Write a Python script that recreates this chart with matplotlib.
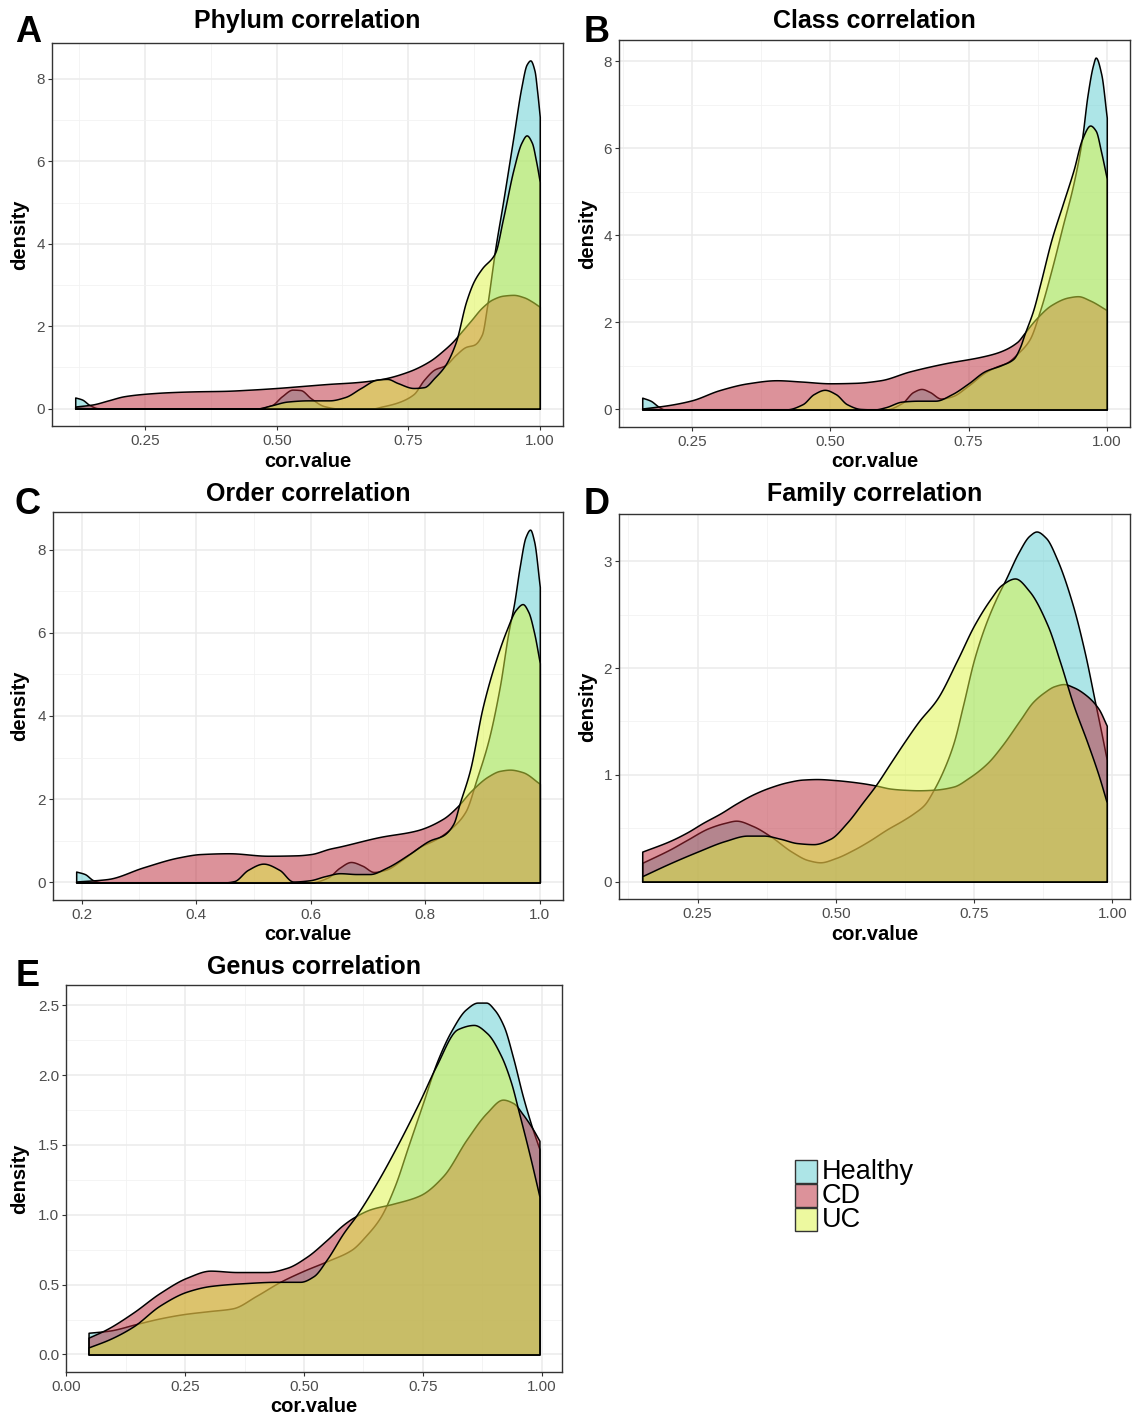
import matplotlib
matplotlib.use("Agg")
import matplotlib.pyplot as plt
from matplotlib.patches import Rectangle
import numpy as np

plt.rcParams['font.family'] = ['Liberation Sans', 'DejaVu Sans']

# ---------------- data ----------------
groups = ["Healthy", "CD", "UC"]
titles = ["Phylum correlation", "Class correlation", "Order correlation",
          "Family correlation", "Genus correlation"]
letters = ["A", "B", "C", "D", "E"]

# Panel A (Phylum)
A_x_healthy = [0.117, 0.13, 0.145, 0.16, 0.2, 0.46, 0.49, 0.51, 0.53, 0.545, 0.565, 0.59, 0.62, 0.68, 0.70, 0.73,
               0.76, 0.78, 0.80, 0.82, 0.84, 0.86, 0.875, 0.89, 0.90, 0.91, 0.915, 0.93, 0.95, 0.965, 0.975, 0.982,
               0.99, 0.995, 1.0]
A_y_healthy = [0.27, 0.22, 0.08, 0.01, 0.0, 0.0, 0.08, 0.3, 0.46, 0.45, 0.25, 0.06, 0.0, 0.0, 0.05, 0.15,
               0.35, 0.7, 0.95, 1.05, 1.3, 1.5, 1.55, 1.8, 2.5, 3.4, 3.85, 5.0, 6.6, 7.8, 8.35, 8.45,
               8.2, 7.7, 7.08]
A_x_cd = [0.117, 0.15, 0.18, 0.21, 0.25, 0.30, 0.35, 0.40, 0.45, 0.50, 0.55, 0.60, 0.65, 0.70, 0.75, 0.79, 0.82,
          0.835, 0.85, 0.87, 0.89, 0.91, 0.93, 0.95, 0.97, 0.985, 1.0]
A_y_cd = [0.05, 0.1, 0.2, 0.3, 0.36, 0.4, 0.42, 0.43, 0.46, 0.5, 0.55, 0.6, 0.64, 0.72, 0.9, 1.15, 1.45,
          1.63, 1.85, 2.15, 2.45, 2.65, 2.74, 2.76, 2.7, 2.6, 2.47]
A_x_uc = [0.117, 0.16, 0.46, 0.49, 0.52, 0.56, 0.60, 0.63, 0.66, 0.69, 0.71, 0.73, 0.76, 0.78, 0.80, 0.82, 0.84,
          0.86, 0.875, 0.89, 0.915, 0.93, 0.95, 0.965, 0.975, 0.985, 0.993, 1.0]
A_y_uc = [0.02, 0.0, 0.0, 0.08, 0.17, 0.2, 0.2, 0.28, 0.5, 0.7, 0.72, 0.62, 0.5, 0.52, 0.75, 1.05, 1.6,
          2.6, 3.1, 3.4, 3.78, 4.6, 5.8, 6.45, 6.63, 6.45, 6.0, 5.5]

# Panel B (Class)
B_x_healthy = [0.16, 0.175, 0.19, 0.2, 0.6, 0.63, 0.65, 0.665, 0.68, 0.70, 0.72, 0.75, 0.78, 0.80, 0.82, 0.84,
               0.86, 0.88, 0.90, 0.92, 0.94, 0.955, 0.965, 0.975, 0.98, 0.99, 1.0]
B_y_healthy = [0.27, 0.2, 0.06, 0.0, 0.0, 0.15, 0.4, 0.47, 0.4, 0.25, 0.3, 0.55, 0.85, 0.98, 1.08, 1.3,
               1.6, 2.3, 3.2, 4.2, 5.2, 6.2, 7.2, 7.9, 8.08, 7.7, 6.7]
B_x_cd = [0.16, 0.208, 0.25, 0.299, 0.351, 0.403, 0.448, 0.50, 0.545, 0.591, 0.643, 0.708, 0.773, 0.805, 0.838,
          0.851, 0.87, 0.90, 0.93, 0.948, 0.97, 1.0]
B_y_cd = [0.02, 0.1, 0.21, 0.44, 0.6, 0.67, 0.64, 0.6, 0.61, 0.67, 0.87, 1.06, 1.21, 1.32, 1.55,
          1.75, 2.05, 2.4, 2.57, 2.6, 2.5, 2.28]
B_x_uc = [0.16, 0.2, 0.42, 0.45, 0.47, 0.49, 0.51, 0.53, 0.555, 0.58, 0.60, 0.63, 0.66, 0.69, 0.72, 0.75, 0.78,
          0.81, 0.831, 0.843, 0.851, 0.867, 0.88, 0.90, 0.92, 0.94, 0.955, 0.97, 0.98, 0.99, 1.0]
B_y_uc = [0.02, 0.0, 0.0, 0.12, 0.35, 0.45, 0.35, 0.12, 0.01, 0.0, 0.05, 0.18, 0.2, 0.2, 0.35, 0.6, 0.88,
          1.02, 1.16, 1.43, 1.72, 2.28, 2.9, 3.9, 4.7, 5.5, 6.2, 6.52, 6.4, 5.9, 5.3]

# Panel C (Order)
C_x_healthy = [0.19, 0.205, 0.22, 0.235, 0.60, 0.63, 0.65, 0.67, 0.69, 0.71, 0.73, 0.76, 0.79, 0.82, 0.845,
               0.87, 0.89, 0.91, 0.93, 0.945, 0.955, 0.965, 0.975, 0.983, 0.99, 1.0]
C_y_healthy = [0.26, 0.2, 0.05, 0.0, 0.0, 0.12, 0.35, 0.49, 0.4, 0.25, 0.3, 0.55, 0.85, 1.05, 1.3,
               1.7, 2.5, 3.4, 4.7, 6.0, 6.7, 7.6, 8.3, 8.48, 8.2, 7.1]
C_x_cd = [0.19, 0.245, 0.307, 0.369, 0.407, 0.457, 0.525, 0.575, 0.60, 0.633, 0.65, 0.72, 0.785, 0.831, 0.855,
          0.88, 0.91, 0.93, 0.948, 0.97, 1.0]
C_y_cd = [0.02, 0.08, 0.36, 0.6, 0.68, 0.7, 0.64, 0.65, 0.68, 0.81, 0.86, 1.09, 1.25, 1.53, 1.81,
          2.2, 2.55, 2.68, 2.71, 2.65, 2.37]
C_x_uc = [0.19, 0.23, 0.45, 0.466, 0.49, 0.517, 0.545, 0.569, 0.598, 0.625, 0.651, 0.68, 0.703, 0.732, 0.773,
          0.808, 0.831, 0.849, 0.86, 0.878, 0.90, 0.92, 0.942, 0.958, 0.97, 0.98, 0.99, 1.0]
C_y_uc = [0.01, 0.0, 0.0, 0.03, 0.3, 0.45, 0.3, 0.02, 0.05, 0.15, 0.22, 0.2, 0.2, 0.35, 0.69,
          1.01, 1.13, 1.41, 1.9, 2.7, 4.2, 5.2, 6.07, 6.55, 6.69, 6.5, 6.0, 5.27]

# Panel D (Family)
D_x_healthy = [0.15, 0.2, 0.231, 0.27, 0.30, 0.32, 0.35, 0.383, 0.42, 0.45, 0.472, 0.50, 0.533, 0.56, 0.593,
               0.62, 0.641, 0.66, 0.677, 0.695, 0.713, 0.73, 0.75, 0.77, 0.79, 0.808, 0.83, 0.85, 0.863, 0.88,
               0.90, 0.928, 0.95, 0.97, 0.98, 0.99]
D_y_healthy = [0.175, 0.3, 0.39, 0.5, 0.55, 0.57, 0.52, 0.42, 0.28, 0.2, 0.18, 0.22, 0.3, 0.38, 0.49,
               0.57, 0.64, 0.72, 0.86, 1.05, 1.3, 1.65, 2.08, 2.4, 2.65, 2.84, 3.08, 3.24, 3.28, 3.22,
               3.02, 2.6, 2.15, 1.65, 1.4, 1.14]
D_x_cd = [0.15, 0.2, 0.231, 0.26, 0.292, 0.32, 0.352, 0.38, 0.412, 0.44, 0.466, 0.50, 0.52, 0.55, 0.572, 0.60,
          0.623, 0.65, 0.677, 0.713, 0.74, 0.774, 0.80, 0.834, 0.856, 0.876, 0.895, 0.912, 0.93, 0.954, 0.975,
          0.99]
D_y_cd = [0.28, 0.38, 0.46, 0.55, 0.64, 0.73, 0.82, 0.88, 0.93, 0.955, 0.96, 0.95, 0.94, 0.92, 0.9, 0.87,
          0.86, 0.855, 0.86, 0.89, 0.97, 1.11, 1.27, 1.52, 1.68, 1.77, 1.83, 1.85, 1.82, 1.74, 1.62,
          1.46]
D_x_uc = [0.15, 0.2, 0.25, 0.30, 0.34, 0.37, 0.40, 0.43, 0.46, 0.49, 0.52, 0.55, 0.572, 0.60, 0.623, 0.65,
          0.683, 0.72, 0.75, 0.78, 0.80, 0.824, 0.85, 0.883, 0.906, 0.93, 0.955, 0.975, 0.99]
D_y_uc = [0.05, 0.17, 0.28, 0.38, 0.43, 0.43, 0.4, 0.36, 0.35, 0.4, 0.55, 0.75, 0.9, 1.12, 1.3, 1.5,
          1.71, 2.08, 2.4, 2.65, 2.78, 2.84, 2.72, 2.4, 2.05, 1.65, 1.3, 1.0, 0.74]

# Panel E (Genus)
E_x_healthy = [0.047, 0.09, 0.15, 0.2, 0.25, 0.30, 0.35, 0.40, 0.45, 0.50, 0.55, 0.60, 0.63, 0.66, 0.69, 0.72,
               0.75, 0.78, 0.81, 0.84, 0.865, 0.883, 0.90, 0.92, 0.94, 0.96, 0.98, 0.995]
E_y_healthy = [0.155, 0.17, 0.22, 0.26, 0.29, 0.31, 0.33, 0.42, 0.52, 0.6, 0.67, 0.75, 0.85, 0.98, 1.2, 1.5,
               1.8, 2.1, 2.32, 2.47, 2.52, 2.52, 2.47, 2.35, 2.12, 1.85, 1.62, 1.47]
E_x_cd = [0.047, 0.085, 0.141, 0.197, 0.254, 0.303, 0.359, 0.422, 0.464, 0.506, 0.548, 0.583, 0.604, 0.64,
          0.688, 0.744, 0.793, 0.842, 0.884, 0.918, 0.94, 0.96, 0.98, 0.995]
E_y_cd = [0.12, 0.18, 0.30, 0.44, 0.55, 0.60, 0.59, 0.59, 0.62, 0.70, 0.82, 0.93, 0.98, 1.04,
          1.08, 1.14, 1.28, 1.54, 1.73, 1.825, 1.8, 1.72, 1.62, 1.53]
E_x_uc = [0.047, 0.092, 0.141, 0.197, 0.254, 0.303, 0.373, 0.443, 0.492, 0.52, 0.548, 0.583, 0.611, 0.653,
          0.695, 0.744, 0.777, 0.823, 0.857, 0.885, 0.914, 0.935, 0.952, 0.975, 0.995]
E_y_uc = [0.05, 0.11, 0.2, 0.35, 0.45, 0.49, 0.51, 0.52, 0.52, 0.56, 0.68, 0.87, 1.0, 1.23,
          1.49, 1.82, 2.06, 2.33, 2.36, 2.3, 2.14, 1.95, 1.73, 1.42, 1.13]

# tick values / labels per panel
xticks_A = [0.25, 0.50, 0.75, 1.00]; xlabels_A = ["0.25", "0.50", "0.75", "1.00"]
xticks_C = [0.2, 0.4, 0.6, 0.8, 1.0]; xlabels_C = ["0.2", "0.4", "0.6", "0.8", "1.0"]
xticks_E = [0.0, 0.25, 0.50, 0.75, 1.00]; xlabels_E = ["0.00", "0.25", "0.50", "0.75", "1.00"]
yticks_ABC = [0, 2, 4, 6, 8]; ylabels_ABC = ["0", "2", "4", "6", "8"]
yticks_D = [0, 1, 2, 3]; ylabels_D = ["0", "1", "2", "3"]
yticks_E = [0.0, 0.5, 1.0, 1.5, 2.0, 2.5]; ylabels_E = ["0.0", "0.5", "1.0", "1.5", "2.0", "2.5"]

# ---------------- style ----------------
colors = {"Healthy": "#5dcdd1", "CD": "#bb2737", "UC": "#ddf541"}
ALPHA = 0.5

W, H = 1132, 1419
fig = plt.figure(figsize=(W / 100, H / 100), dpi=100)
fig.patch.set_facecolor("white")


def box(l, t, r, b):
    return [l / W, 1 - b / H, (r - l) / W, (b - t) / H]


def fxy(px, py):
    return px / W, 1 - py / H


def smooth_path(x, y, per_seg=12):
    """Draw a smooth (shape-preserving Hermite) curve through the read points."""
    x = np.asarray(x, float)
    y = np.asarray(y, float)
    h = np.diff(x)
    d = np.diff(y) / h
    m = np.zeros_like(y)
    m[0], m[-1] = d[0], d[-1]
    for k in range(1, len(x) - 1):
        if d[k - 1] * d[k] <= 0:
            m[k] = 0.0
        else:
            w1 = 2 * h[k] + h[k - 1]
            w2 = h[k] + 2 * h[k - 1]
            m[k] = (w1 + w2) / (w1 / d[k - 1] + w2 / d[k])
    xs, ys = [], []
    for k in range(len(x) - 1):
        t = np.linspace(0, 1, per_seg, endpoint=False)
        h00 = 2 * t**3 - 3 * t**2 + 1
        h10 = t**3 - 2 * t**2 + t
        h01 = -2 * t**3 + 3 * t**2
        h11 = t**3 - t**2
        xs.append(x[k] + t * h[k])
        ys.append(h00 * y[k] + h10 * h[k] * m[k] + h01 * y[k + 1] + h11 * h[k] * m[k + 1])
    xs.append([x[-1]])
    ys.append([y[-1]])
    return np.concatenate(xs), np.clip(np.concatenate(ys), 0, None)


panels = [
    dict(box=(52, 43, 563, 426), series=[(A_x_healthy, A_y_healthy), (A_x_cd, A_y_cd), (A_x_uc, A_y_uc)],
         xt=(xticks_A, xlabels_A), yt=(yticks_ABC, ylabels_ABC), xminor=0.125, yminor=1.0,
         title_y=21, letter=(28, 33), xlab_y=461, ylab_x=20),
    dict(box=(619, 40, 1130, 427), series=[(B_x_healthy, B_y_healthy), (B_x_cd, B_y_cd), (B_x_uc, B_y_uc)],
         xt=(xticks_A, xlabels_A), yt=(yticks_ABC, ylabels_ABC), xminor=0.125, yminor=1.0,
         title_y=21, letter=(597, 33), xlab_y=461, ylab_x=588),
    dict(box=(53, 512, 563, 900), series=[(C_x_healthy, C_y_healthy), (C_x_cd, C_y_cd), (C_x_uc, C_y_uc)],
         xt=(xticks_C, xlabels_C), yt=(yticks_ABC, ylabels_ABC), xminor=0.1, yminor=1.0,
         title_y=494, letter=(28, 505), xlab_y=934, ylab_x=20),
    dict(box=(619, 514, 1130, 899), series=[(D_x_healthy, D_y_healthy), (D_x_cd, D_y_cd), (D_x_uc, D_y_uc)],
         xt=(xticks_A, xlabels_A), yt=(yticks_D, ylabels_D), xminor=0.125, yminor=0.5,
         title_y=494, letter=(597, 505), xlab_y=934, ylab_x=588),
    dict(box=(66, 985, 562, 1372), series=[(E_x_healthy, E_y_healthy), (E_x_cd, E_y_cd), (E_x_uc, E_y_uc)],
         xt=(xticks_E, xlabels_E), yt=(yticks_E, ylabels_E), xminor=0.125, yminor=0.25,
         title_y=967, letter=(28, 977), xlab_y=1406, ylab_x=20),
]

for i, p in enumerate(panels):
    l, t, r, b = p["box"]
    ax = fig.add_axes(box(l, t, r, b))
    allx = [v for s in p["series"] for v in s[0]]
    ally = [v for s in p["series"] for v in s[1]]
    x0, x1 = min(allx), max(allx)
    y0, y1 = 0.0, max(ally)
    ax.set_xlim(x0 - 0.05 * (x1 - x0), x1 + 0.05 * (x1 - x0))
    ax.set_ylim(y0 - 0.05 * (y1 - y0), y1 + 0.05 * (y1 - y0))

    for g, (xs, ys) in zip(groups, p["series"]):
        rgb = matplotlib.colors.to_rgb(colors[g])
        sx, sy = smooth_path(xs, ys)
        ax.fill_between(sx, sy, 0, facecolor=(*rgb, ALPHA), edgecolor="black", linewidth=1.1,
                        joinstyle="round")

    xt, xl = p["xt"]
    yt, yl = p["yt"]
    ax.set_xticks(xt)
    ax.set_xticklabels(xl)
    ax.set_yticks(yt)
    ax.set_yticklabels(yl)
    xlo, xhi = ax.get_xlim()
    ylo, yhi = ax.get_ylim()
    step = p["xminor"]
    xm = [v for v in np.arange(-1, 2.0001, step) if xlo < v < xhi and not any(abs(v - q) < 1e-6 for q in xt)]
    step = p["yminor"]
    ym = [v for v in np.arange(0, 10.0001, step) if ylo < v < yhi and not any(abs(v - q) < 1e-6 for q in yt)]
    ax.set_xticks(xm, minor=True)
    ax.set_yticks(ym, minor=True)
    ax.grid(which="major", color="#ebebeb", linewidth=1.1)
    ax.grid(which="minor", color="#f2f2f2", linewidth=0.6)
    ax.set_axisbelow(True)
    ax.tick_params(which="minor", length=0)
    ax.tick_params(which="major", length=3, width=0.8, color="#333333", labelcolor="#4d4d4d",
                   labelsize=11)
    ax.tick_params(axis="x", pad=3)
    ax.tick_params(axis="y", pad=2)
    for sp in ax.spines.values():
        sp.set_color("#333333")
        sp.set_linewidth(1.0)

    cx = (l + r) / 2
    fig.text(*fxy(cx, p["title_y"]), titles[i], ha="center", va="center", fontsize=18, fontweight="bold")
    fig.text(*fxy(*p["letter"]), letters[i], ha="center", va="center", fontsize=26, fontweight="bold")
    fig.text(*fxy(cx, p["xlab_y"]), "cor.value", ha="center", va="center", fontsize=14.5, fontweight="bold")
    fig.text(*fxy(p["ylab_x"], (t + b) / 2), "density", ha="center", va="center", rotation=90,
             fontsize=14.5, fontweight="bold")

# legend
key_tops = [1160, 1184, 1208]
for g, kt in zip(groups, key_tops):
    rgb = matplotlib.colors.to_rgb(colors[g])
    x0, y0 = fxy(795, kt + 23)
    fig.add_artist(Rectangle((x0, y0), 22 / W, 23 / H, transform=fig.transFigure,
                             facecolor=(*rgb, ALPHA), edgecolor="#333333", linewidth=1.0))
    fig.text(*fxy(822, kt + 12), g, ha="left", va="center", fontsize=19.5)

fig.savefig("out.png", dpi=100, facecolor="white")
